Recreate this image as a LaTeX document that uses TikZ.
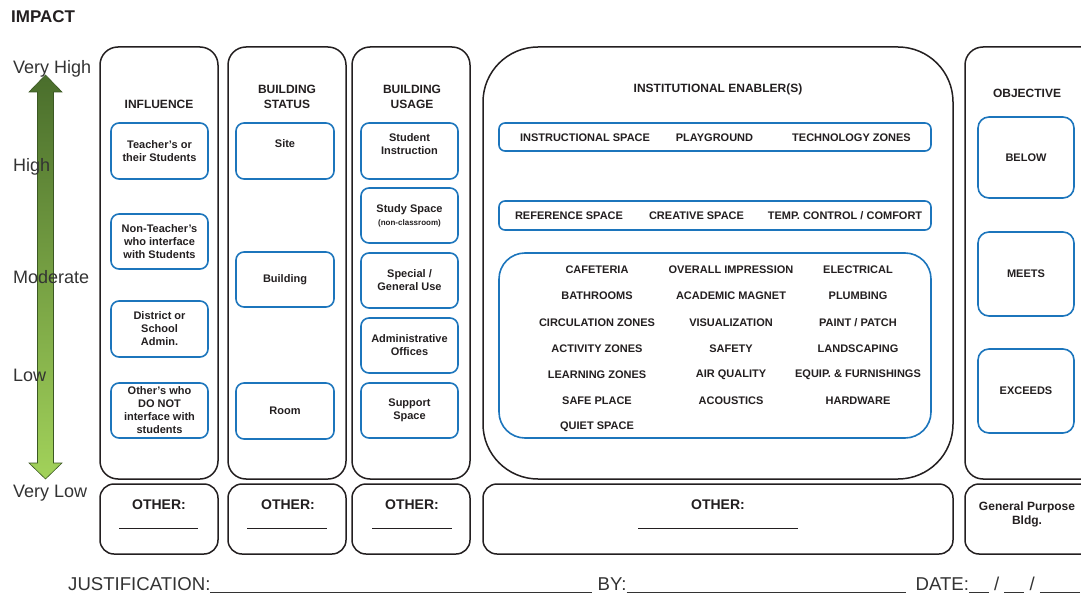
\documentclass[tikz,border=0pt]{standalone}
\usepackage{fontspec}
\setmainfont{Liberation Sans}
\definecolor{ink}{RGB}{35,31,32}
\definecolor{frameblue}{RGB}{28,117,188}
\definecolor{topgreen}{RGB}{74,110,44}
\definecolor{botgreen}{RGB}{162,210,90}
\newcommand{\tagfont}{\fontsize{11}{13}\selectfont\bfseries}
\newcommand{\hdfont}{\fontsize{12}{15}\selectfont\bfseries}
\newcommand{\lvlfont}{\fontsize{18}{20}\selectfont}
\newcommand{\blankline}[1]{\rule[-2.7pt]{#1}{0.9pt}}

\begin{document}
\begin{tikzpicture}[x=1pt,y=-1pt,
    col/.style={draw=ink,line width=1.5pt,rounded corners=18pt},
    bbox/.style={draw=frameblue,line width=1.6pt,rounded corners=8pt,inner sep=1pt,align=center,font=\tagfont,text=ink},
    tag/.style={font=\tagfont,text=ink,align=center},
    hd/.style={font=\hdfont,text=ink,align=center},
    lvl/.style={font=\lvlfont,text=black!80,anchor=west,inner sep=0pt},
    other/.style={font=\fontsize{14}{16}\selectfont\bfseries,text=ink}]
        \useasboundingbox (0,0) rectangle (1081,596);

        % Impact scale
        \node[font=\fontsize{17}{20}\selectfont\bfseries,text=ink,anchor=west,inner sep=0pt] (impact) at (11,17) {IMPACT};
        \shadedraw[top color=topgreen,bottom color=botgreen,draw=topgreen!80!black,line width=0.6pt]
            (45.5,75) -- (62,92) -- (53.5,92) -- (53.5,463) -- (62,463) -- (45.5,479)
            -- (29,463) -- (37.5,463) -- (37.5,92) -- (29,92) -- cycle;
        \node[lvl] (vhigh) at (13,69) {Very High};
        \node[lvl] (high) at (13,167) {High};
        \node[lvl] (moderate) at (13,277.5) {Moderate};
        \node[lvl] (low) at (13,375.5) {Low};
        \node[lvl] (vlow) at (13,493) {Very Low};

        % Columns
        \draw[col] (100,47) rectangle (218,479);  % Influence
        \draw[col] (228,47) rectangle (346,479);  % Building status
        \draw[col] (352,47) rectangle (470,479);  % Building usage
        \draw[col,rounded corners=55pt] (483,47) rectangle (953,479);  % Enablers
        \draw[col] (965,47) rectangle (1100,479);  % Objective

        % Bottom row
        \draw[col,rounded corners=14pt] (100,484) rectangle (218,554);
        \draw[col,rounded corners=14pt] (228,484) rectangle (346,554);
        \draw[col,rounded corners=14pt] (352,484) rectangle (470,554);
        \draw[col,rounded corners=14pt] (483,484) rectangle (953,554);
        \draw[col,rounded corners=14pt] (965,484) rectangle (1100,554);

        % Headers
        \node[hd] (inflhd) at (159,104) {INFLUENCE};
        \node[hd] (stathd) at (287,96.5) {BUILDING\\STATUS};
        \node[hd] (usehd) at (412,96.5) {BUILDING\\USAGE};
        \node[hd] (enabhd) at (718,89) {INSTITUTIONAL ENABLER(S)};
        \node[hd] (objhd) at (1027,93) {OBJECTIVE};

        % Influence
        \node[bbox,minimum width=97pt,minimum height=56pt] (teacher) at (159.5,151) {Teacher’s or\\their Students};
        \node[bbox,minimum width=97pt,minimum height=55pt] (nonteacher) at (159.5,241.5) {Non-Teacher’s\\who interface\\with Students};
        \node[bbox,minimum width=97pt,minimum height=56pt] (admin) at (159.5,329) {District or\\School\\Admin.};
        \node[bbox,minimum width=97pt,minimum height=55pt] (others) at (159.5,410.5) {Other’s who\\DO NOT\\interface with\\students};

        % Building status
        \node[bbox,minimum width=98pt,minimum height=56pt] (site) at (285,151) {};
        \node[tag] (sitetxt) at (285,144) {Site};
        \node[bbox,minimum width=98pt,minimum height=55pt] (building) at (285,279.5) {Building};
        \node[bbox,minimum width=98pt,minimum height=56pt] (room) at (285,411) {Room};

        % Building usage
        \node[bbox,minimum width=97pt,minimum height=56pt] (instr) at (409.5,151) {};
        \node[tag] (instrtxt) at (409.5,144) {Student\\Instruction};
        \node[bbox,minimum width=97pt,minimum height=55pt] (study) at (409.5,215.5) {Study Space\\{\fontsize{8}{10}\selectfont(non-classroom)}};
        \node[bbox,minimum width=97pt,minimum height=55pt] (special) at (409.5,280.5) {Special /\\General Use};
        \node[bbox,minimum width=97pt,minimum height=55pt] (offices) at (409.5,345.5) {Administrative\\Offices};
        \node[bbox,minimum width=97pt,minimum height=55pt] (support) at (409.5,410.5) {Support\\Space};

        % Enablers, upper rows
        \node[bbox,rounded corners=6pt,minimum width=432pt,minimum height=28pt] (rowa) at (715,137) {};
        \node[tag] (instsp) at (585,137.5) {INSTRUCTIONAL SPACE};
        \node[tag] (playgr) at (714.5,137.5) {PLAYGROUND};
        \node[tag] (techzn) at (851.5,137.5) {TECHNOLOGY ZONES};
        \node[bbox,rounded corners=6pt,minimum width=432pt,minimum height=29pt] (rowb) at (715,215.5) {};
        \node[tag] (refsp) at (569,216) {REFERENCE SPACE};
        \node[tag] (creatsp) at (696.5,216) {CREATIVE SPACE};
        \node[tag] (tempctl) at (845,216) {TEMP. CONTROL / COMFORT};

        % Enablers, grid
        \node[bbox,rounded corners=26pt,minimum width=432pt,minimum height=185pt] (grid) at (715,345.5) {};
        \node[tag] (cafe) at (597,269.5) {CAFETERIA};
        \node[tag] (overall) at (731,269.5) {OVERALL IMPRESSION};
        \node[tag] (elec) at (858,269.5) {ELECTRICAL};
        \node[tag] (bath) at (597,295.5) {BATHROOMS};
        \node[tag] (magnet) at (731,295.5) {ACADEMIC MAGNET};
        \node[tag] (plumb) at (858,295.5) {PLUMBING};
        \node[tag] (circ) at (597,322.5) {CIRCULATION ZONES};
        \node[tag] (visual) at (731,322.5) {VISUALIZATION};
        \node[tag] (paint) at (858,322.5) {PAINT / PATCH};
        \node[tag] (activ) at (597,348.5) {ACTIVITY ZONES};
        \node[tag] (safety) at (731,348.5) {SAFETY};
        \node[tag] (landsc) at (858,348.5) {LANDSCAPING};
        \node[tag] (learn) at (597,374.5) {LEARNING ZONES};
        \node[tag] (air) at (731,374.5) {AIR QUALITY};
        \node[tag] (equip) at (858,374.5) {EQUIP. \& FURNISHINGS};
        \node[tag] (safepl) at (597,400.5) {SAFE PLACE};
        \node[tag] (acoust) at (731,400.5) {ACOUSTICS};
        \node[tag] (hardw) at (858,400.5) {HARDWARE};
        \node[tag] (quiet) at (597,426.5) {QUIET SPACE};

        % Objective
        \node[bbox,rounded corners=11pt,minimum width=96pt,minimum height=81pt] (below) at (1026,157.5) {BELOW};
        \node[bbox,rounded corners=11pt,minimum width=96pt,minimum height=84pt] (meets) at (1026,274) {MEETS};
        \node[bbox,rounded corners=11pt,minimum width=96pt,minimum height=84pt] (exceeds) at (1026,391) {EXCEEDS};

        % Other
        \node[other] (othinfl) at (159,505) {OTHER:};
        \draw[ink,line width=0.9pt] (119,528) -- (198,528);
        \node[other] (othstat) at (288,505) {OTHER:};
        \draw[ink,line width=0.9pt] (247,528) -- (327,528);
        \node[other] (othuse) at (412,505) {OTHER:};
        \draw[ink,line width=0.9pt] (372,528) -- (452,528);
        \node[other] (othenab) at (718,505) {OTHER:};
        \draw[ink,line width=0.9pt] (638,528) -- (798,528);
        \node[hd,font=\fontsize{12}{14}\selectfont\bfseries] (genpurp) at (1027,514) {General Purpose\\Bldg.};

        % Sign-off line
        \node[lvl,font=\fontsize{18.6}{20}\selectfont] (justif) at (68,585) {JUSTIFICATION:\blankline{382pt}\ BY:\blankline{279pt}\hspace{10pt}DATE:\blankline{20pt}\ /\ \blankline{20pt}\ /\ \blankline{40pt}};
\end{tikzpicture}
\end{document}
